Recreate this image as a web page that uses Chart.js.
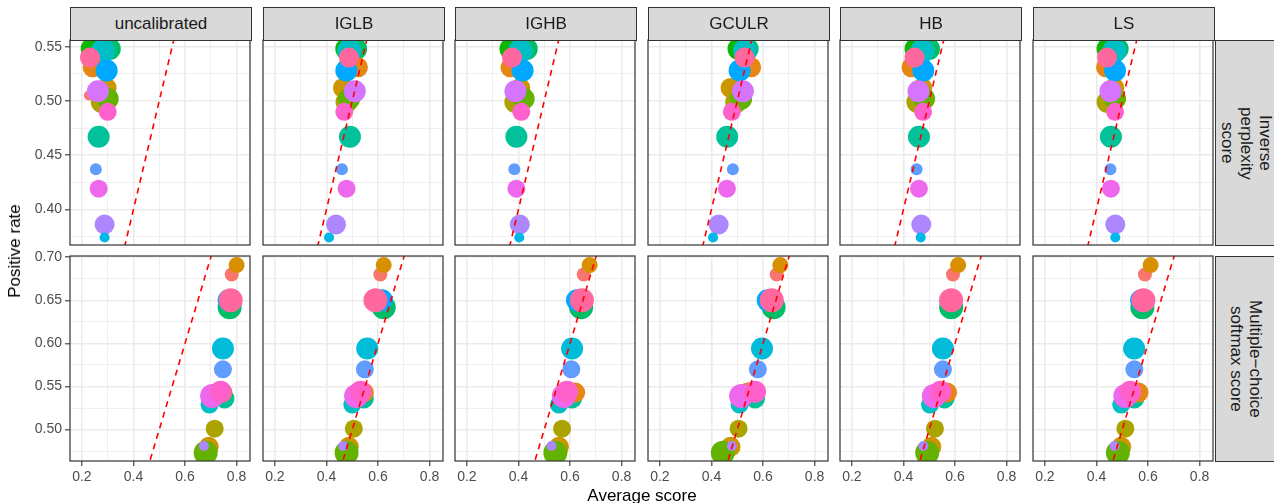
<!DOCTYPE html>
<html>
<head>
<meta charset="utf-8">
<script src="https://cdn.jsdelivr.net/npm/chart.js"></script>
<style>
body { margin: 0; background: #fff; font-family: "Liberation Sans", Arial, sans-serif; }
#wrap { position: relative; width: 1274px; height: 503px; overflow: hidden; }
canvas { position: absolute; }
.strip { position: absolute; box-sizing: border-box; background: #D9D9D9; border: 1px solid #333; color: #1A1A1A;
  font-size: 17px; display: flex; align-items: center; justify-content: center; text-align: center; }
.side { writing-mode: vertical-rl; line-height: 19px; white-space: pre; }
.title { position: absolute; font-size: 17px; color: #000; white-space: nowrap; }
</style>
</head>
<body>
<div id="wrap"></div>
<script>
const methods = ['uncalibrated', 'IGLB', 'IGHB', 'GCULR', 'HB', 'LS'];
const rowLabels = ['Inverse\nperplexity\nscore', 'Multiple\u2212choice\nsoftmax score'];

const xMajor = [0.2, 0.4, 0.6, 0.8];
const xMinor = [0.3, 0.5, 0.7];
const ipMajor = [0.40, 0.45, 0.50, 0.55];
const ipMinor = [0.375, 0.425, 0.475, 0.525];
const mcMajor = [0.50, 0.55, 0.60, 0.65, 0.70];
const mcMinor = [0.475, 0.525, 0.575, 0.625, 0.675];
const identityLine = [0, 1];

// inverse perplexity score row
const ipColors = ['#0CB702', '#00BE67', '#00BFC4', '#E68613', '#F8766D', '#CD9600', '#ABA300', '#64B200', '#00A9FF',
  '#FF689F', '#D575FE', '#FF61CC', '#00C19A', '#619CFF', '#ED68ED', '#AE87FF', '#00B8E7'];
const ipSizes = [11, 11, 12, 10, 5, 10, 11, 11, 11, 10, 11, 9, 11, 6, 9, 10, 5];
const ipRate = [0.548, 0.548, 0.546, 0.531, 0.505, 0.512, 0.499, 0.502, 0.528, 0.540, 0.509, 0.490, 0.467, 0.437, 0.419, 0.386, 0.374];
const ipUncalibrated = [0.238, 0.308, 0.281, 0.242, 0.227, 0.296, 0.277, 0.300, 0.296, 0.231, 0.262, 0.300, 0.265, 0.254, 0.265, 0.288, 0.288];
const ipIGLB = [0.477, 0.515, 0.488, 0.522, 0.480, 0.464, 0.478, 0.488, 0.477, 0.487, 0.510, 0.469, 0.491, 0.460, 0.478, 0.437, 0.410];
const ipIGHB = [0.369, 0.432, 0.407, 0.369, 0.370, 0.407, 0.388, 0.420, 0.416, 0.375, 0.388, 0.411, 0.392, 0.384, 0.392, 0.405, 0.403];
const ipGCULR = [0.505, 0.540, 0.530, 0.554, 0.500, 0.474, 0.496, 0.515, 0.509, 0.528, 0.522, 0.479, 0.461, 0.483, 0.460, 0.428, 0.406];
const ipHB = [0.447, 0.499, 0.473, 0.431, 0.440, 0.473, 0.454, 0.480, 0.477, 0.443, 0.458, 0.476, 0.460, 0.451, 0.460, 0.469, 0.467];
const ipLS = [0.443, 0.482, 0.469, 0.437, 0.440, 0.469, 0.443, 0.472, 0.472, 0.441, 0.454, 0.472, 0.456, 0.454, 0.456, 0.473, 0.473];

// multiple-choice softmax score row
const mcColors = ['#00BE67', '#00A9FF', '#FF689F', '#F8766D', '#D89000', '#00BFC4', '#00C19A', '#E68613', '#ED68ED',
  '#FF61CC', '#00BCD8', '#619CFF', '#ABA300', '#CD9600', '#64B200', '#AE87FF'];
const mcSizes = [12, 11, 12, 7, 8, 9, 10, 10, 12, 11, 11, 9, 9, 10, 12, 5];
const mcRate = [0.642, 0.650, 0.650, 0.680, 0.691, 0.529, 0.536, 0.543, 0.539, 0.544, 0.594, 0.570, 0.501, 0.480, 0.473, 0.481];
const mcUncalibrated = [0.773, 0.769, 0.777, 0.781, 0.800, 0.695, 0.753, 0.745, 0.705, 0.738, 0.747, 0.747, 0.715, 0.692, 0.680, 0.673];
const mcIGLB = [0.622, 0.615, 0.590, 0.609, 0.622, 0.500, 0.545, 0.545, 0.515, 0.532, 0.558, 0.549, 0.506, 0.487, 0.478, 0.465];
const mcIGHB = [0.643, 0.627, 0.646, 0.653, 0.676, 0.557, 0.608, 0.620, 0.576, 0.588, 0.608, 0.605, 0.569, 0.557, 0.543, 0.528];
const mcGCULR = [0.641, 0.618, 0.634, 0.653, 0.667, 0.509, 0.569, 0.541, 0.515, 0.569, 0.596, 0.580, 0.505, 0.474, 0.444, 0.479];
const mcHB = [0.585, 0.582, 0.585, 0.592, 0.612, 0.503, 0.559, 0.569, 0.518, 0.543, 0.553, 0.553, 0.522, 0.508, 0.492, 0.477];
const mcLS = [0.578, 0.573, 0.582, 0.588, 0.610, 0.496, 0.547, 0.563, 0.512, 0.531, 0.546, 0.547, 0.512, 0.496, 0.483, 0.470];

const rows = [
  { rate: ipRate, colors: ipColors, sizes: ipSizes, major: ipMajor, minor: ipMinor, min: 0.3671, max: 0.5562,
    scores: [ipUncalibrated, ipIGLB, ipIGHB, ipGCULR, ipHB, ipLS] },
  { rate: mcRate, colors: mcColors, sizes: mcSizes, major: mcMajor, minor: mcMinor, min: 0.4635, max: 0.7015,
    scores: [mcUncalibrated, mcIGLB, mcIGHB, mcGCULR, mcHB, mcLS] }
];

// layout
const colLeft = [70, 263, 455, 648, 840, 1033];
const rowTop = [40, 256];
const PW = 182, PH = 205, AXW = 50, AXH = 34, PADT = 12, PADR = 10;
const wrap = document.getElementById('wrap');

Chart.defaults.font.family = '"Liberation Sans", Arial, sans-serif';

const panelBorder = {
  id: 'panelBorder',
  afterDraw(chart) {
    const a = chart.chartArea, g = chart.ctx;
    g.save();
    g.strokeStyle = '#333333';
    g.lineWidth = 1.2;
    g.strokeRect(a.left, a.top, a.right - a.left, a.bottom - a.top);
    g.restore();
  }
};

function isIn(list, v) {
  return list.some(m => Math.abs(m - v) < 1e-9);
}

function makePanel(r, c) {
  const row = rows[r];
  const cv = document.createElement('canvas');
  cv.width = AXW + PW + PADR;
  cv.height = PADT + PH + AXH;
  cv.style.left = (colLeft[c] - AXW) + 'px';
  cv.style.top = (rowTop[r] - PADT) + 'px';
  wrap.appendChild(cv);

  const xs = row.scores[c];
  const showX = r === 1;
  const showY = c === 0;

  new Chart(cv.getContext('2d'), {
    type: 'scatter',
    data: {
      datasets: [
        {
          type: 'line',
          data: identityLine.map(v => ({ x: v, y: v })),
          borderColor: '#FF0000',
          borderWidth: 1.6,
          borderDash: [6, 5],
          pointRadius: 0,
          fill: false,
          order: 0,
          clip: 0
        },
        {
          data: xs.map((x, i) => ({ x: x, y: row.rate[i] })),
          backgroundColor: row.colors,
          pointRadius: row.sizes,
          pointHoverRadius: row.sizes,
          pointBorderWidth: 0,
          borderWidth: 0,
          order: 1,
          clip: 0
        }
      ]
    },
    options: {
      responsive: false,
      animation: false,
      events: [],
      layout: { padding: { top: PADT, right: PADR, left: 0, bottom: 0 } },
      plugins: { legend: { display: false }, tooltip: { enabled: false } },
      scales: {
        x: {
          type: 'linear',
          min: 0.1538,
          max: 0.852,
          border: { display: false },
          afterBuildTicks: s => { s.ticks = xMajor.concat(xMinor).sort((a, b) => a - b).map(v => ({ value: v })); },
          afterFit: s => { s.height = AXH; },
          ticks: {
            display: showX,
            autoSkip: false,
            maxRotation: 0,
            padding: 3,
            color: '#4D4D4D',
            font: { size: 14 },
            callback: v => isIn(xMajor, v) ? v.toFixed(1) : ''
          },
          grid: {
            color: '#EBEBEB',
            lineWidth: ctx => (ctx.tick && isIn(xMajor, ctx.tick.value)) ? 1.6 : 0.8,
            drawTicks: showX,
            tickLength: 5,
            tickWidth: 1.1,
            tickColor: ctx => (ctx.tick && isIn(xMajor, ctx.tick.value)) ? '#333333' : 'rgba(0,0,0,0)'
          }
        },
        y: {
          type: 'linear',
          min: row.min,
          max: row.max,
          border: { display: false },
          afterBuildTicks: s => { s.ticks = row.major.concat(row.minor).sort((a, b) => a - b).map(v => ({ value: v })); },
          afterFit: s => { s.width = AXW; },
          ticks: {
            display: showY,
            autoSkip: false,
            padding: 3,
            color: '#4D4D4D',
            font: { size: 14 },
            callback: v => isIn(row.major, v) ? v.toFixed(2) : ''
          },
          grid: {
            color: '#EBEBEB',
            lineWidth: ctx => (ctx.tick && isIn(row.major, ctx.tick.value)) ? 1.6 : 0.8,
            drawTicks: showY,
            tickLength: 5,
            tickWidth: 1.1,
            tickColor: ctx => (ctx.tick && isIn(row.major, ctx.tick.value)) ? '#333333' : 'rgba(0,0,0,0)'
          }
        }
      }
    },
    plugins: [panelBorder]
  });
}

for (let r = 0; r < 2; r++) {
  for (let c = 0; c < 6; c++) makePanel(r, c);
}

// facet strips
methods.forEach((m, c) => {
  const d = document.createElement('div');
  d.className = 'strip';
  d.style.left = colLeft[c] + 'px';
  d.style.top = '7px';
  d.style.width = PW + 'px';
  d.style.height = (rowTop[0] - 7 + 1) + 'px';
  d.textContent = m;
  wrap.appendChild(d);
});
rowLabels.forEach((t, r) => {
  const d = document.createElement('div');
  d.className = 'strip';
  d.style.left = (colLeft[5] + PW) + 'px';
  d.style.top = rowTop[r] + 'px';
  d.style.width = '62px';
  d.style.height = (PH + 1) + 'px';
  const s = document.createElement('span');
  s.className = 'side';
  s.textContent = t;
  d.appendChild(s);
  wrap.appendChild(d);
});

// axis titles
const yt = document.createElement('div');
yt.className = 'title';
yt.textContent = 'Positive rate';
yt.style.left = '15px';
yt.style.top = '251px';
yt.style.transform = 'translate(-50%, -50%) rotate(-90deg)';
wrap.appendChild(yt);

const xt = document.createElement('div');
xt.className = 'title';
xt.textContent = 'Average score';
xt.style.left = '642px';
xt.style.top = '496px';
xt.style.transform = 'translate(-50%, -50%)';
wrap.appendChild(xt);
</script>
</body>
</html>
